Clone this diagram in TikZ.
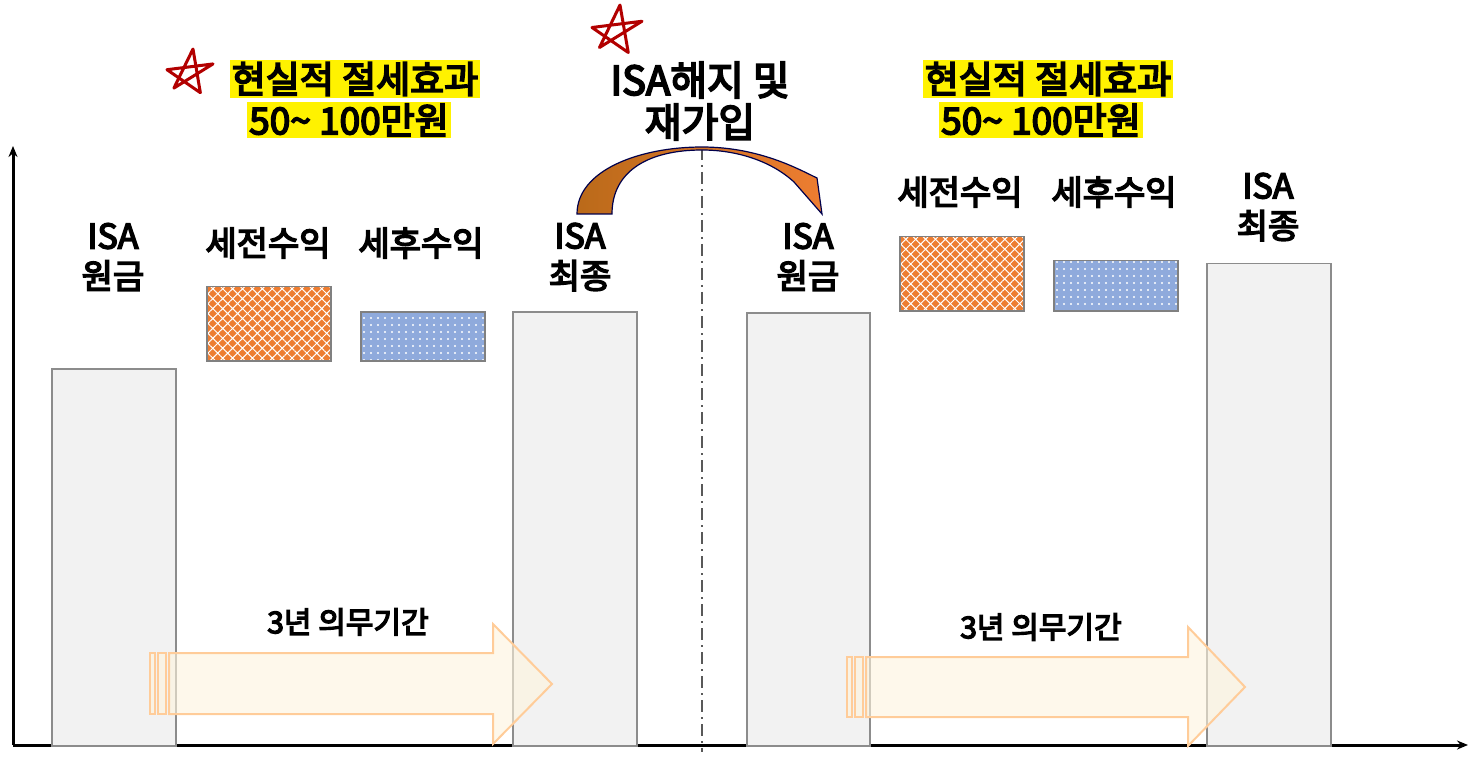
\documentclass[tikz,border=0pt]{standalone}
\usepackage{fontspec}
\setmainfont{Noto Sans CJK KR}[AutoFakeBold=4.5]
\usetikzlibrary{patterns.meta,arrows.meta}
\definecolor{org}{HTML}{ED7D31}
\definecolor{blu}{HTML}{8FAADC}
\begin{document}
\begin{tikzpicture}[x=1pt,y=-1pt,
  bar/.style={draw=gray!90,line width=1.5pt,fill=black!5},
  lbl/.style={font=\bfseries\fontsize{34}{40}\selectfont,align=center,inner sep=0},
  hl/.style={font=\bfseries\fontsize{37}{40}\selectfont,fill=yellow,inner sep=2pt},
  star/.style={draw=red!70!black,line width=3pt,line join=round},
  bigarr/.style={draw=orange!40,line width=2pt,fill=yellow!40!orange!12,fill opacity=0.6},
  ax/.style={line width=3pt,-{Stealth[length=11pt,width=9pt]}}]
\useasboundingbox (0,0) rectangle (1480,759);
% axes
\coordinate (o) at (13,745);
\coordinate (yt) at (13,146);
\coordinate (xt) at (1468,745);
\draw[ax] (o) -- (yt);
\draw[ax] (o) -- (xt);
% divider
\coordinate (d1) at (702,148); \coordinate (d2) at (702,752);
\draw[gray!70!black,line width=2.2pt,dash pattern=on 12pt off 5pt on 2pt off 5pt] (d1) -- (d2);
% bars
\node[bar,minimum width=124,minimum height=377,inner sep=0,anchor=north west] (b1) at (51,368) {};
\node[bar,minimum width=124,minimum height=434,inner sep=0,anchor=north west] (b2) at (512,311) {};
\node[bar,minimum width=123,minimum height=433,inner sep=0,anchor=north west] (b3) at (746,312) {};
\node[bar,minimum width=124,minimum height=482,inner sep=0,anchor=north west] (b4) at (1206,263) {};
% pattern boxes
\foreach \n/\x/\y/\h in {p1/206/286/74, p3/899/236/74}{
  \fill[org] (\x,\y) rectangle ++(124,\h);
  \fill[pattern={Hatch[distance=7pt,angle=45,line width=1pt]},pattern color=white] (\x,\y) rectangle ++(124,\h);
  \node[draw=gray,line width=1.5pt,minimum width=124,minimum height=\h,inner sep=0,anchor=north west] (\n) at (\x,\y) {};}
\foreach \n/\x/\y/\h in {p2/360/311/49, p4/1053/260/50}{
  \fill[blu] (\x,\y) rectangle ++(124,\h);
  \fill[pattern={Dots[distance=7pt,radius=1.1pt]},pattern color=white] (\x,\y) rectangle ++(124,\h);
  \node[draw=gray,line width=1.5pt,minimum width=124,minimum height=\h,inner sep=0,anchor=north west] (\n) at (\x,\y) {};}
% labels
\node[lbl] (l1) at (113,257) {ISA\\원금};
\node[lbl] (l2) at (268,243) {세전수익};
\node[lbl] (l3) at (421,243) {세후수익};
\node[lbl] (l4) at (580,257) {ISA\\최종};
\node[lbl] (l5) at (808,257) {ISA\\원금};
\node[lbl] (l6) at (960,192) {세전수익};
\node[lbl] (l7) at (1114,192) {세후수익};
\node[lbl] (l8) at (1268,207) {ISA\\최종};
% highlights
\node[hl] (h1) at (355,79) {현실적 절세효과};
\node[hl] (h2) at (349,120) {50\textasciitilde{} 100만원};
\node[hl] (h3) at (1048,79) {현실적 절세효과};
\node[hl] (h4) at (1041,120) {50\textasciitilde{} 100만원};
\node[font=\bfseries\fontsize{40}{42}\selectfont,align=center] (t) at (700,101) {ISA해지 및\\재가입};
% curved arrow
\shade[left color=orange!70!black!90,right color=org,draw=blue!30!black,line width=1.2pt]
  (577,214) .. controls (577,170) and (640,147) .. (702,147)
  .. controls (760,147) and (800,170) .. (817,178) -- (822,214)
  -- (794,182) .. controls (770,160) and (735,150) .. (702,150)
  .. controls (650,150) and (612,170) .. (612,214) -- cycle;
% stars
\foreach \cx/\cy/\r in {190/72/23, 617/30/25}{
  \draw[star] (\cx+3,\cy-\r) -- (\cx+0.45*\r,\cy+0.9*\r) -- (\cx-\r,\cy-0.1*\r) -- (\cx+\r,\cy-0.35*\r) -- (\cx-0.7*\r,\cy+0.7*\r) -- cycle;}
% big arrows
\foreach \a/\bx/\e/\yt/\yb/\ht/\hb/\tip/\tx in {1/169/493/653/714/624/744/684/552, 2/866/1188/657/717/627/746/687/1245}{
  \draw[bigarr] (\bx-19,\yt) rectangle (\bx-14,\yb);
  \draw[bigarr] (\bx-11,\yt) rectangle (\bx-3,\yb);
  \draw[bigarr] (\bx,\yt) -- (\e,\yt) -- (\e,\ht) -- (\tx,\tip) -- (\e,\hb) -- (\e,\yb) -- (\bx,\yb) -- cycle;}
\node[font=\bfseries\fontsize{30}{34}\selectfont] (a1) at (348,622) {3년 의무기간};
\node[font=\bfseries\fontsize{30}{34}\selectfont] (a2) at (1041,627) {3년 의무기간};
\end{tikzpicture}
\end{document}
